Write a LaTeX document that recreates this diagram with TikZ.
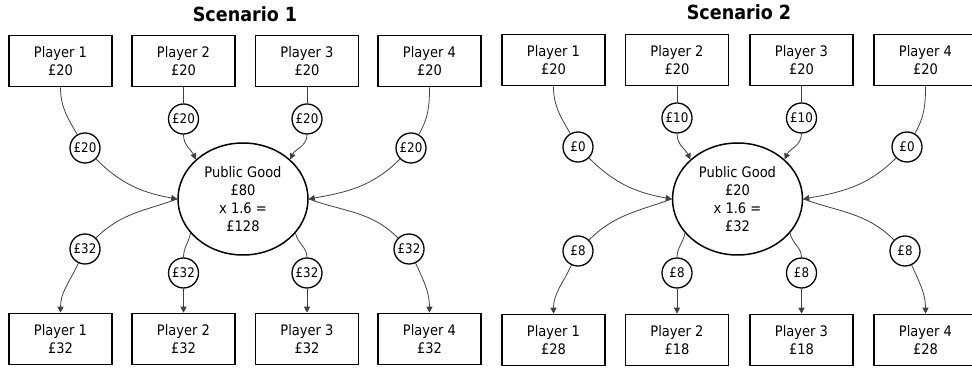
\documentclass[tikz,border=0pt]{standalone}
\usepackage{fontspec}
\setmainfont{DejaVu Sans Condensed}
\usetikzlibrary{shapes.geometric,arrows.meta}
\begin{document}
\begin{tikzpicture}[x=1pt,y=1pt,
 player/.style={draw, line width=1.6pt, minimum width=103pt, minimum height=51pt, inner sep=0pt, align=center, font=\fontsize{14.5}{18}\selectfont},
 pool/.style={draw, ellipse, line width=1.5pt, minimum width=130pt, minimum height=112pt, inner sep=0pt, align=center, font=\fontsize{14.5}{18}\selectfont},
 amt/.style={draw, circle, line width=1.3pt, minimum size=30pt, inner sep=0pt, font=\fontsize{13.2}{14}\selectfont, fill=white},
 flow/.style={draw=black!75, line width=0.8pt},
 arr/.style={flow, -{Triangle[length=6pt,width=6pt]}},
 heading/.style={font=\fontsize{19.5}{22}\selectfont\bfseries, anchor=base}]
\useasboundingbox (0,0) rectangle (972,369);

% ---------------- Scenario 1 ----------------
\node[heading] (h1) at (245,347) {Scenario 1};
\node[player] (At1) at (60.5,308) {Player 1\\£20};
\node[player] (At2) at (183.5,308) {Player 2\\£20};
\node[player] (At3) at (307,308) {Player 3\\£20};
\node[player] (At4) at (429.5,308) {Player 4\\£20};
\node[player] (Ab1) at (60.5,30) {Player 1\\£32};
\node[player] (Ab2) at (183.5,30) {Player 2\\£32};
\node[player] (Ab3) at (307,30) {Player 3\\£32};
\node[player] (Ab4) at (429.5,30) {Player 4\\£32};
\node[pool] (Apg) at (243,170) {Public Good\\£80\\x 1.6 =\\£128};
\node[amt] (Aa1) at (85,221) {£20};
\node[amt] (Aa2) at (183.5,250) {£20};
\node[amt] (Aa3) at (307,250) {£20};
\node[amt] (Aa4) at (411,221) {£20};
\node[amt] (Ac1) at (85,120) {£32};
\node[amt] (Ac2) at (183.5,96) {£32};
\node[amt] (Ac3) at (307,96) {£32};
\node[amt] (Ac4) at (409,120) {£32};

\draw[flow] (At1.south) to[out=-90,in=120] (Aa1);
\draw[arr] (Aa1) to[out=-45,in=170] (Apg.west);
\draw[flow] (At2.south) -- (Aa2.north);
\draw[arr] (Aa2) to[out=-90,in=115] (Apg.140);
\draw[flow] (At3.south) -- (Aa3.north);
\draw[arr] (Aa3) to[out=-90,in=65] (Apg.40);
\draw[flow] (At4.south) to[out=-90,in=60] (Aa4);
\draw[arr] (Aa4) to[out=-135,in=10] (Apg.east);

\draw[flow] (Apg.west) to[out=200,in=45] (Ac1);
\draw[arr] (Ac1) to[out=-115,in=90] (Ab1.north);
\draw[flow] (Apg.-147) to[out=-100,in=90] (Ac2);
\draw[arr] (Ac2.south) -- (Ab2.north);
\draw[flow] (Apg.-33) to[out=-80,in=90] (Ac3);
\draw[arr] (Ac3.south) -- (Ab3.north);
\draw[flow] (Apg.east) to[out=-20,in=135] (Ac4);
\draw[arr] (Ac4) to[out=-65,in=90] (Ab4.north);

% ---------------- Scenario 2 ----------------
\node[heading] (h2) at (739,349) {Scenario 2};
\node[player] (Bt1) at (553.5,309) {Player 1\\£20};
\node[player] (Bt2) at (677,309) {Player 2\\£20};
\node[player] (Bt3) at (801.5,309) {Player 3\\£20};
\node[player] (Bt4) at (925.5,309) {Player 4\\£20};
\node[player] (Bb1) at (553.5,29) {Player 1\\£28};
\node[player] (Bb2) at (677,29) {Player 2\\£18};
\node[player] (Bb3) at (801.5,29) {Player 3\\£18};
\node[player] (Bb4) at (925.5,29) {Player 4\\£28};
\node[pool] (Bpg) at (737.5,170) {Public Good\\£20\\x 1.6 =\\£32};
\node[amt] (Ba1) at (578,222) {£0};
\node[amt] (Ba2) at (677,251) {£10};
\node[amt] (Ba3) at (801.5,251) {£10};
\node[amt] (Ba4) at (907,222) {£0};
\node[amt] (Bc1) at (578,118) {£8};
\node[amt] (Bc2) at (677,96) {£8};
\node[amt] (Bc3) at (801.5,96) {£8};
\node[amt] (Bc4) at (905,118) {£8};

\draw[flow] (Bt1.south) to[out=-90,in=120] (Ba1);
\draw[arr] (Ba1) to[out=-45,in=170] (Bpg.west);
\draw[flow] (Bt2.south) -- (Ba2.north);
\draw[arr] (Ba2) to[out=-90,in=115] (Bpg.140);
\draw[flow] (Bt3.south) -- (Ba3.north);
\draw[arr] (Ba3) to[out=-90,in=65] (Bpg.40);
\draw[flow] (Bt4.south) to[out=-90,in=60] (Ba4);
\draw[arr] (Ba4) to[out=-135,in=10] (Bpg.east);

\draw[flow] (Bpg.west) to[out=200,in=45] (Bc1);
\draw[arr] (Bc1) to[out=-115,in=90] (Bb1.north);
\draw[flow] (Bpg.-147) to[out=-100,in=90] (Bc2);
\draw[arr] (Bc2.south) -- (Bb2.north);
\draw[flow] (Bpg.-33) to[out=-80,in=90] (Bc3);
\draw[arr] (Bc3.south) -- (Bb3.north);
\draw[flow] (Bpg.east) to[out=-20,in=135] (Bc4);
\draw[arr] (Bc4) to[out=-65,in=90] (Bb4.north);
\end{tikzpicture}
\end{document}
